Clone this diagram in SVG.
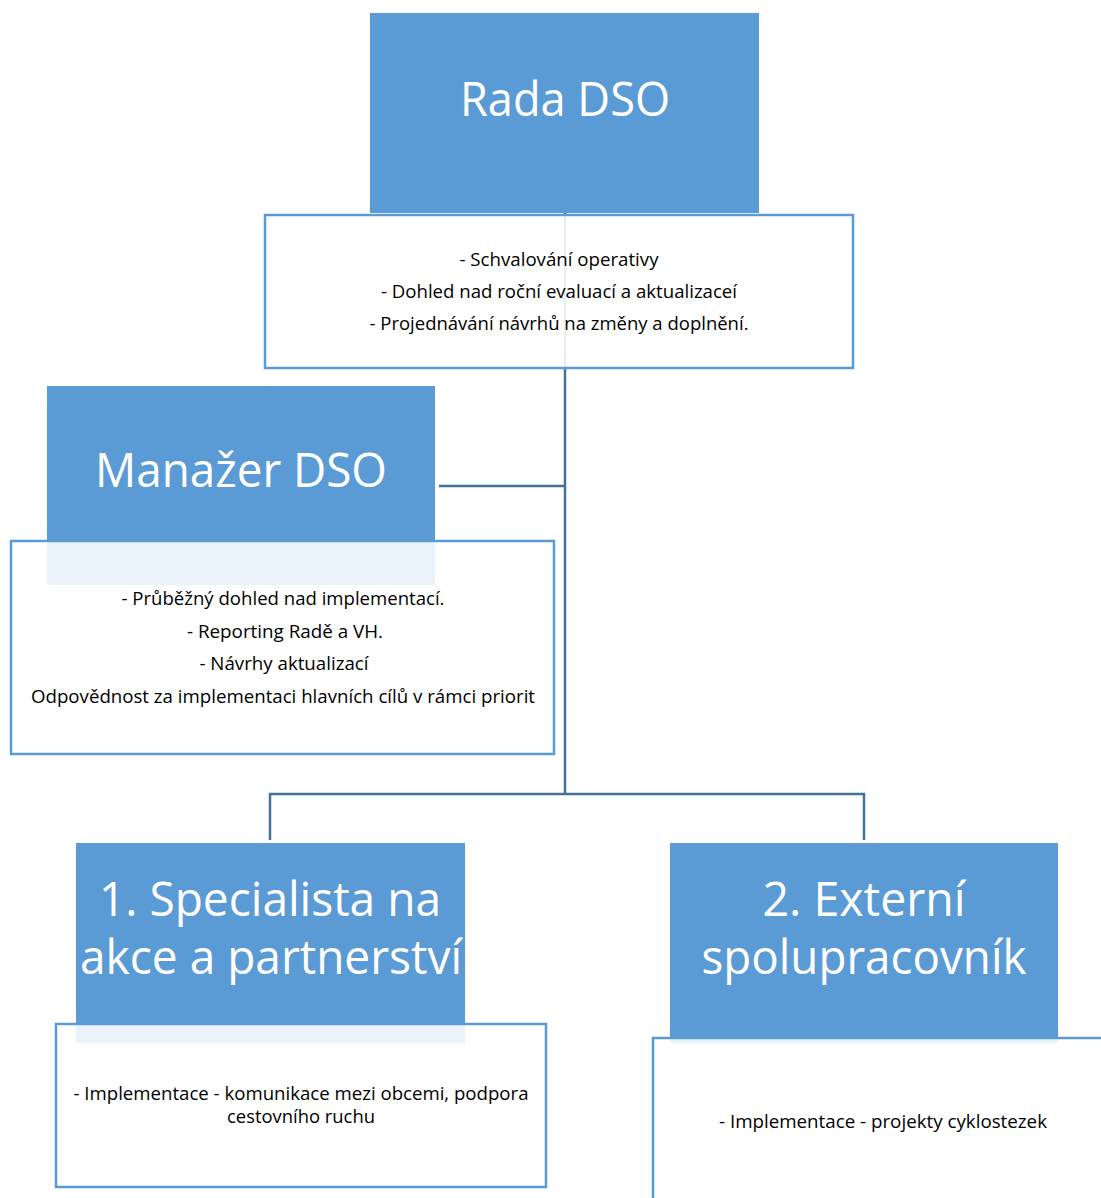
<svg xmlns="http://www.w3.org/2000/svg" width="1101" height="1198" viewBox="0 0 1101 1198">
<style>
.head{fill:#5b9bd5;}
.box{fill:#ffffff;fill-opacity:0.88;stroke:#5b9bd5;stroke-width:2.5;}
.conn{fill:none;stroke:#41719c;stroke-width:2.5;}
.title{font-family:"Open Sans","Noto Sans","Liberation Sans",sans-serif;font-size:48px;fill:#ffffff;text-anchor:middle;}
.txt{font-family:"Open Sans","Noto Sans","Liberation Sans",sans-serif;font-size:17.5px;fill:#000000;text-anchor:middle;}
</style>
<rect width="1101" height="1198" fill="#ffffff"/>
<g id="heads">
<rect class="head" x="370" y="13" width="389" height="200"/>
<rect class="head" x="47" y="386" width="388" height="199"/>
<rect class="head" x="76" y="843" width="389" height="200"/>
<rect class="head" x="670" y="843" width="388" height="200"/>
</g>
<g id="connectors">
<polyline class="conn" points="565,213 565,794"/>
<polyline class="conn" points="439,486 565,486"/>
<polyline class="conn" points="270,840 270,794 864,794 864,840"/>
</g>
<g id="rada">
<text class="title" x="565" y="116" textLength="210" lengthAdjust="spacingAndGlyphs">Rada DSO</text>
<rect class="box" x="265" y="215" width="588" height="153"/>
<text class="txt" x="559" y="266" textLength="199" lengthAdjust="spacingAndGlyphs">- Schvalování operativy</text>
<text class="txt" x="559" y="298" textLength="356" lengthAdjust="spacingAndGlyphs">- Dohled nad roční evaluací a aktualizaceí</text>
<text class="txt" x="559" y="330" textLength="379" lengthAdjust="spacingAndGlyphs">- Projednávání návrhů na změny a doplnění.</text>
</g>
<g id="manazer">
<text class="title" x="241" y="487" textLength="292" lengthAdjust="spacingAndGlyphs">Manažer DSO</text>
<rect class="box" x="11" y="541" width="543" height="213"/>
<text class="txt" x="283" y="605" textLength="323" lengthAdjust="spacingAndGlyphs">- Průběžný dohled nad implementací.</text>
<text class="txt" x="285" y="638" textLength="196" lengthAdjust="spacingAndGlyphs">- Reporting Radě a VH.</text>
<text class="txt" x="284" y="670" textLength="169" lengthAdjust="spacingAndGlyphs">- Návrhy aktualizací</text>
<text class="txt" x="283" y="703" textLength="504" lengthAdjust="spacingAndGlyphs">Odpovědnost za implementaci hlavních cílů v rámci priorit</text>
</g>
<g id="specialista">
<text class="title" x="270" y="916" textLength="342" lengthAdjust="spacingAndGlyphs">1. Specialista na</text>
<text class="title" x="271" y="974" textLength="382" lengthAdjust="spacingAndGlyphs">akce a partnerství</text>
<rect class="box" x="56" y="1024" width="490" height="163"/>
<text class="txt" x="301" y="1100" textLength="455" lengthAdjust="spacingAndGlyphs">- Implementace - komunikace mezi obcemi, podpora</text>
<text class="txt" x="301" y="1123" textLength="148" lengthAdjust="spacingAndGlyphs">cestovního ruchu</text>
</g>
<g id="externi">
<text class="title" x="864" y="916" textLength="203" lengthAdjust="spacingAndGlyphs">2. Externí</text>
<text class="title" x="864" y="974" textLength="325" lengthAdjust="spacingAndGlyphs">spolupracovník</text>
<rect class="box" x="653" y="1038" width="470" height="180"/>
<text class="txt" x="883" y="1128" textLength="328" lengthAdjust="spacingAndGlyphs">- Implementace - projekty cyklostezek</text>
</g>
</svg>
